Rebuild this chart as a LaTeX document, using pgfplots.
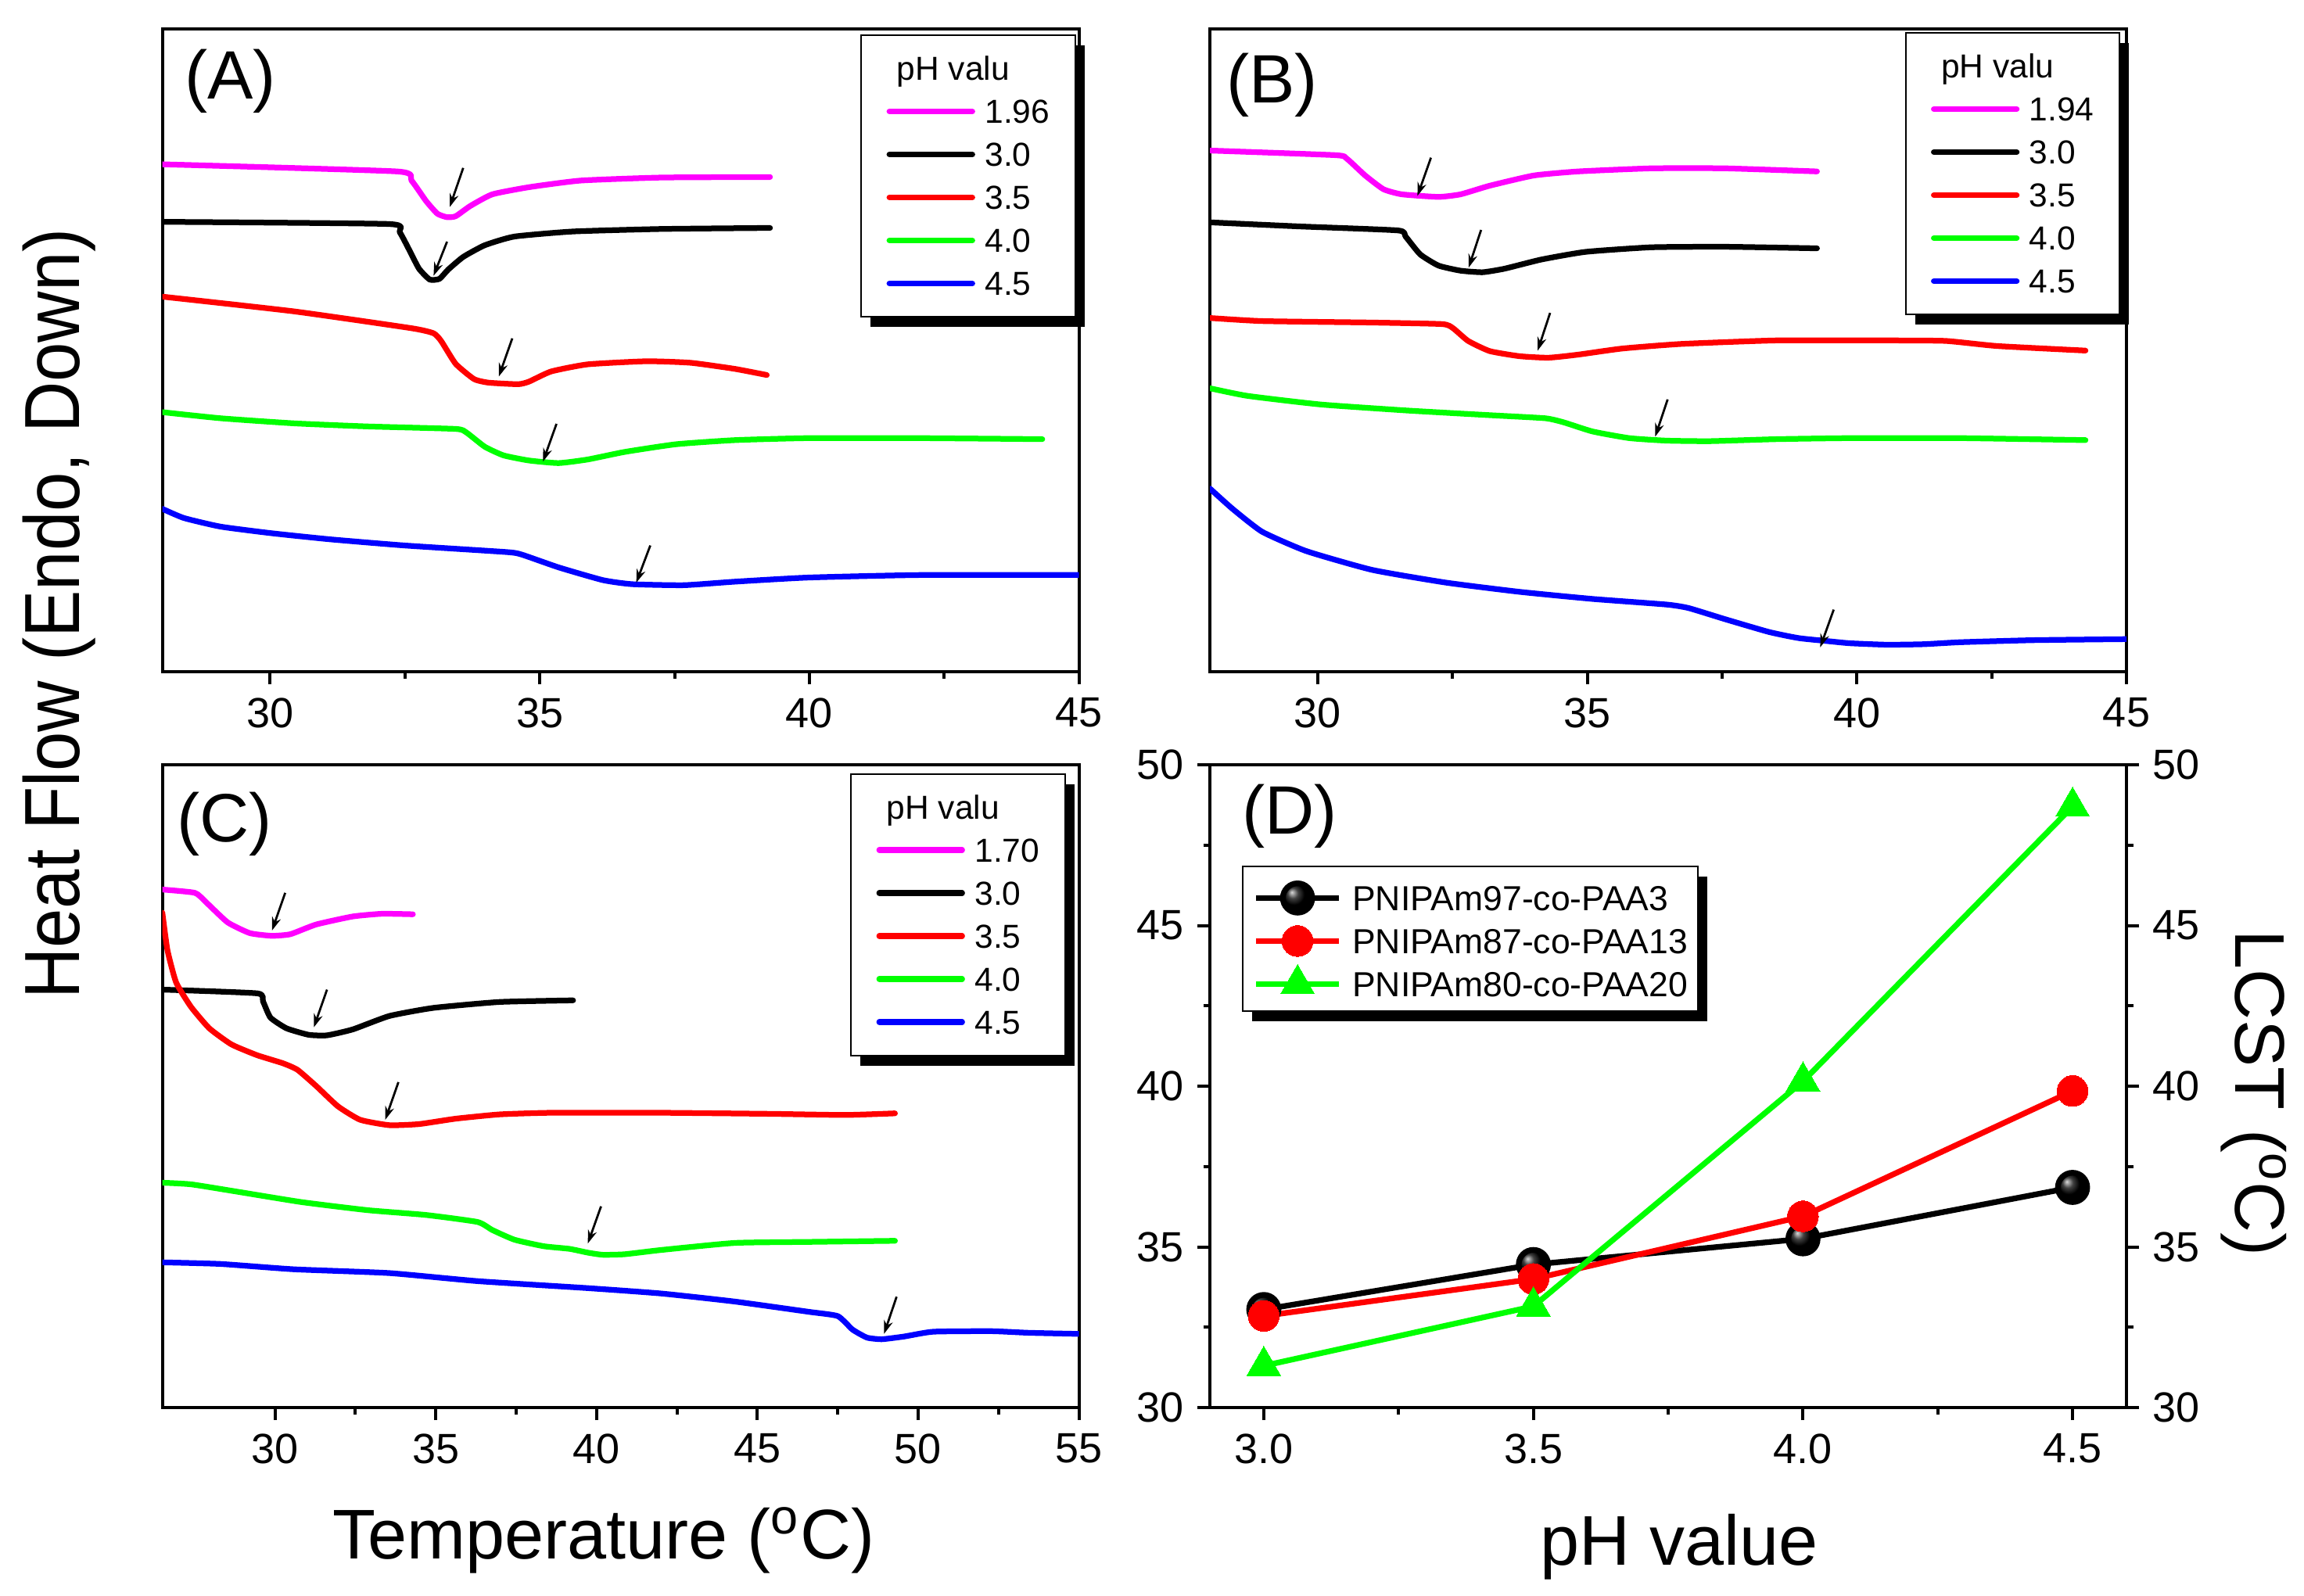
\documentclass[border=0pt]{standalone}
\usepackage{fontspec}
\setmainfont{Liberation Sans}
\usepackage{pgfplots}
\pgfplotsset{compat=1.18}
\usetikzlibrary{shadows,arrows.meta}

\definecolor{cmag}{RGB}{255,0,255}
\definecolor{cgrn}{RGB}{0,255,0}
\definecolor{cred}{RGB}{255,0,0}
\definecolor{cblu}{RGB}{0,0,255}

\makeatletter
% legend images must not inherit the legend box's drop shadow
\tikzset{nopre/.code={\let\tikz@preactions\pgfutil@empty}}
\makeatother
\tikzset{lab/.style={anchor=north west, inner sep=0pt, font=\fontsize{17.5}{20}\selectfont}}

\pgfplotsset{
  panel/.style={
    scale only axis, width=234.4pt, height=164.4pt,
    anchor=south west,
    axis line style={line width=0.8pt},
    every tick/.style={black, line width=0.8pt},
    tick align=outside, major tick length=3.2pt, minor tick length=1.7pt,
    xtick pos=left,
    ticklabel style={font=\fontsize{10.8}{12}\selectfont},
    /pgf/number format/assume math mode=true,
    legend image code/.code={\draw[nopre,##1,mark repeat=2,mark phase=2] plot coordinates {(0pt,0pt) (10.6pt,0pt) (21.2pt,0pt)};},
  },
  dsc/.style={panel, ymin=0, ymax=100, ytick=\empty, minor x tick num=1,
    legend cell align=left,
    legend style={draw=black, line width=0.4pt, fill=white,
      font=\fontsize{8.5}{10}\selectfont,
      inner xsep=6.5pt, inner ysep=5.4pt,
      row sep={11pt,between origins}, column sep=2.5pt,
      nodes={inner sep=0pt, text height=6.2pt, text depth=0pt},
      drop shadow={shadow xshift=2.4pt, shadow yshift=-2.6pt, fill=black, opacity=1}},
  },
  crv/.style={line width=1.45pt, line cap=round, line join=round, smooth, tension=0.3},
  arr/.style={forget plot, black, line width=0.55pt, -{Stealth[length=3.4pt,width=2.3pt]},
    quiver={u=\thisrow{u}, v=\thisrow{v}}},
}

\begin{document}
\begin{tikzpicture}
\useasboundingbox (0,0) rectangle (589.2pt,408pt);

% ---------------- (A)
\begin{axis}[dsc, at={(41.52pt,236.2pt)}, xmin=28, xmax=45, xtick={30,35,40,45},
  legend style={at={(1,1)}, xshift=-0.8pt, yshift=-1.4pt, anchor=north east}]
\addlegendimage{empty legend}\addlegendentry{\hspace*{-22.5pt}pH valu}
\addplot[crv, cmag] table {
28.00 78.94
32.35 77.83
32.62 76.41
32.89 73.24
33.10 71.26
33.28 70.71
33.44 70.86
33.71 72.45
34.12 74.27
34.80 75.38
35.76 76.41
37.26 76.88
39.27 76.96
};\addlegendentry{1.96}
\addplot[crv, black] table {
28.00 69.99
32.20 69.65
32.40 68.40
32.58 65.60
32.76 62.70
32.96 61.00
33.14 61.12
33.30 62.55
33.58 64.53
33.98 66.35
34.53 67.70
35.62 68.49
37.26 68.88
39.27 69.04
};\addlegendentry{3.0}
\addplot[crv, cred] table {
28.00 58.35
30.44 56.06
32.62 53.44
33.03 52.65
33.17 51.46
33.44 47.90
33.78 45.53
34.05 44.97
34.60 44.73
34.80 45.13
35.21 46.71
35.89 47.82
36.98 48.30
37.80 48.06
38.62 47.11
39.21 46.16
};\addlegendentry{3.5}
\addplot[crv, cgrn] table {
28.00 40.38
29.08 39.43
30.44 38.64
31.80 38.16
33.44 37.77
33.64 37.21
33.98 35.00
34.33 33.65
34.80 32.86
35.35 32.46
35.89 33.02
36.58 34.20
37.53 35.39
38.62 36.03
39.98 36.34
42.03 36.34
44.32 36.18
};\addlegendentry{4.0}
\addplot[crv, cblu] table {
28.00 25.34
28.40 23.91
29.08 22.57
30.03 21.54
31.12 20.59
32.49 19.64
34.39 18.61
34.67 18.21
35.35 16.23
36.17 14.25
36.71 13.62
37.67 13.46
38.62 14.01
39.98 14.65
42.03 15.04
45.00 15.04
};\addlegendentry{4.5}
\addplot[arr] table {
x y u v
33.58 78.38 -0.25 -6.09
33.28 66.90 -0.25 -5.30
34.49 51.86 -0.25 -5.94
35.31 38.56 -0.25 -5.86
37.05 19.64 -0.26 -5.78
};
\node[lab] at ([xshift=5.5pt,yshift=-5pt]rel axis cs:0,1) {(A)};
\end{axis}

% ---------------- (B)
\begin{axis}[dsc, at={(309.4pt,236.2pt)}, xmin=28, xmax=45, xtick={30,35,40,45},
  legend style={at={(1,1)}, xshift=-1.6pt, yshift=-0.8pt, anchor=north east}]
\addlegendimage{empty legend}\addlegendentry{\hspace*{-22.5pt}pH valu}
\addplot[crv, cmag] table {
28.00 81.08
30.33 80.36
30.54 79.81
30.88 77.20
31.22 75.06
31.56 74.27
32.24 73.87
32.65 74.27
33.19 75.61
34.01 77.20
34.83 77.83
36.19 78.31
37.56 78.31
39.26 77.83
};\addlegendentry{1.94}
\addplot[crv, black] table {
28.00 69.91
29.65 69.28
31.49 68.65
31.63 67.70
31.90 64.93
32.24 63.18
32.65 62.39
33.06 62.15
33.47 62.71
34.15 64.13
34.97 65.32
36.19 66.03
37.56 66.11
39.26 65.87
};\addlegendentry{3.0}
\addplot[crv, cred] table {
28.00 55.03
28.97 54.55
31.01 54.32
32.31 54.08
32.51 53.44
32.79 51.46
33.19 49.88
33.74 49.09
34.28 48.85
34.83 49.33
35.65 50.28
36.74 50.99
38.51 51.54
40.56 51.54
41.65 51.46
42.60 50.67
44.24 49.96
};\addlegendentry{3.5}
\addplot[crv, cgrn] table {
28.00 44.10
28.70 42.91
30.06 41.57
31.69 40.62
33.19 39.91
34.22 39.43
34.56 38.80
35.10 37.37
35.78 36.34
36.47 35.95
37.28 35.87
38.51 36.18
39.87 36.34
41.92 36.34
44.24 36.03
};\addlegendentry{4.0}
\addplot[crv, cblu] table {
28.00 28.50
28.42 25.34
28.97 21.77
29.79 18.76
31.01 15.84
32.38 13.86
33.74 12.43
35.10 11.32
36.47 10.45
36.88 9.90
37.56 8.16
38.37 6.18
38.92 5.23
39.47 4.75
39.87 4.43
40.56 4.20
41.24 4.28
41.92 4.59
43.28 4.91
45.00 5.07
};\addlegendentry{4.5}
\addplot[arr] table {
x y u v
32.10 79.97 -0.25 -5.94
33.03 68.73 -0.23 -5.86
34.31 55.82 -0.23 -5.86
36.49 42.36 -0.23 -5.78
39.57 9.66 -0.25 -5.86
};
\node[lab] at ([xshift=4pt,yshift=-6pt]rel axis cs:0,1) {(B)};
\end{axis}

% ---------------- (C)
\begin{axis}[dsc, at={(41.52pt,48pt)}, xmin=26.5, xmax=55, xtick={30,35,...,55},
  legend style={at={(1,1)}, xshift=-3.4pt, yshift=-2.1pt, anchor=north east}]
\addlegendimage{empty legend}\addlegendentry{\hspace*{-22.5pt}pH valu}
\addplot[crv, cmag] table {
26.50 80.59
27.51 80.08
27.85 78.66
28.53 75.48
29.22 73.81
29.90 73.39
30.48 73.64
31.28 75.15
32.42 76.40
33.33 76.82
34.29 76.74
};\addlegendentry{1.70}
\addplot[crv, black] table {
26.50 65.02
29.45 64.44
29.63 63.18
29.86 60.67
30.36 59.00
31.05 57.99
31.62 57.91
32.42 58.83
33.56 60.92
34.93 62.18
36.99 63.10
39.27 63.35
};\addlegendentry{3.0}
\addplot[crv, cred] table {
26.50 76.99
26.66 71.13
26.93 66.11
27.39 62.34
27.96 59.00
28.65 56.49
29.45 54.81
30.25 53.56
30.70 52.55
31.28 50.04
31.96 46.86
32.65 44.77
33.56 43.93
34.48 44.10
35.62 44.94
36.99 45.61
38.59 45.86
42.02 45.86
45.44 45.69
47.73 45.52
49.28 45.77
};\addlegendentry{3.5}
\addplot[crv, cgrn] table {
26.50 34.98
27.39 34.73
28.76 33.64
30.82 31.97
32.88 30.71
34.70 29.96
36.30 28.87
36.76 27.62
37.45 26.11
38.36 25.10
39.16 24.69
39.73 24.10
40.19 23.77
40.87 23.85
42.02 24.52
44.30 25.61
46.59 25.77
49.28 25.94
};\addlegendentry{4.0}
\addplot[crv, cblu] table {
26.50 22.59
28.31 22.34
30.59 21.51
33.56 20.92
36.30 19.67
39.73 18.58
42.02 17.74
44.30 16.49
46.59 14.90
47.50 14.23
47.96 12.13
48.41 10.88
48.87 10.63
49.56 11.05
50.47 11.80
52.30 11.88
53.44 11.63
55.00 11.46
};\addlegendentry{4.5}
\addplot[arr] table {
x y u v
30.32 80.08 -0.41 -5.86
31.62 65.02 -0.41 -5.86
33.84 50.63 -0.41 -5.86
40.14 31.30 -0.41 -5.77
49.33 17.24 -0.39 -5.77
};
\node[lab] at ([xshift=3.6pt,yshift=-6.9pt]rel axis cs:0,1) {(C)};
\end{axis}

% ---------------- (D)
\begin{axis}[panel, at={(309.4pt,48pt)},
  xmin=2.9, xmax=4.6, ymin=30, ymax=50,
  xtick={3,3.5,4,4.5}, ytick={30,35,...,50},
  minor x tick num=1, minor y tick num=1,
  ytick pos=both, yticklabel pos=left,
  xticklabel style={/pgf/number format/.cd, fixed, fixed zerofill, precision=1},
  legend cell align=left,
  legend style={at={(0,1)}, xshift=8.2pt, yshift=-25.7pt, anchor=north west,
    draw=black, line width=0.4pt, fill=white,
    font=\fontsize{8.9}{10}\selectfont,
    inner xsep=2.7pt, inner ysep=3.7pt,
    row sep={11pt,between origins}, column sep=2.7pt,
    nodes={inner sep=0pt, text height=6.4pt, text depth=0pt},
    drop shadow={shadow xshift=2.4pt, shadow yshift=-2.6pt, fill=black, opacity=1}}]
\addplot[line width=1.45pt, black, mark=ball, mark size=3.75pt, mark options={ball color=black}] coordinates {
(3.0,33.05) (3.5,34.45) (4.0,35.25) (4.5,36.85)};
\addlegendentry{PNIPAm97-co-PAA3}
\addplot[line width=1.45pt, cred, mark=*, mark size=3.95pt, mark options={fill=cred, draw=cred, line width=0pt}] coordinates {
(3.0,32.85) (3.5,34.0) (4.0,35.95) (4.5,39.85)};
\addlegendentry{PNIPAm87-co-PAA13}
\addplot[line width=1.45pt, cgrn, mark=triangle*, mark size=5pt, mark options={fill=cgrn, draw=cgrn, line width=0pt}] coordinates {
(3.0,31.3) (3.5,33.15) (4.0,40.15) (4.5,48.7)};
\addlegendentry{PNIPAm80-co-PAA20}
\node[lab] at ([xshift=8pt,yshift=-4.9pt]rel axis cs:0,1) {(D)};
\end{axis}
\begin{axis}[panel, at={(309.4pt,48pt)},
  xmin=2.9, xmax=4.6, ymin=30, ymax=50,
  axis x line=none, axis y line*=right,
  ytick={30,35,...,50}, minor y tick num=1]
\end{axis}

% ---------------- shared labels
\node[rotate=90, anchor=base, inner sep=0pt, font=\fontsize{20}{24}\selectfont]
  at (20.3pt,251pt) {\scalebox{0.905}[1]{Heat Flow (Endo, Down)}};
\node[anchor=base, inner sep=0pt, font=\fontsize{18}{22}\selectfont]
  at (154.4pt,9.4pt) {Temperature (\textsuperscript{o}C)};
\node[anchor=base, inner sep=0pt, font=\fontsize{18}{22}\selectfont]
  at (429.4pt,7.7pt) {pH value};
\node[rotate=-90, anchor=base, inner sep=0pt, font=\fontsize{18}{22}\selectfont]
  at (571.6pt,128.4pt) {LCST (\textsuperscript{o}C)};
\end{tikzpicture}
\end{document}
